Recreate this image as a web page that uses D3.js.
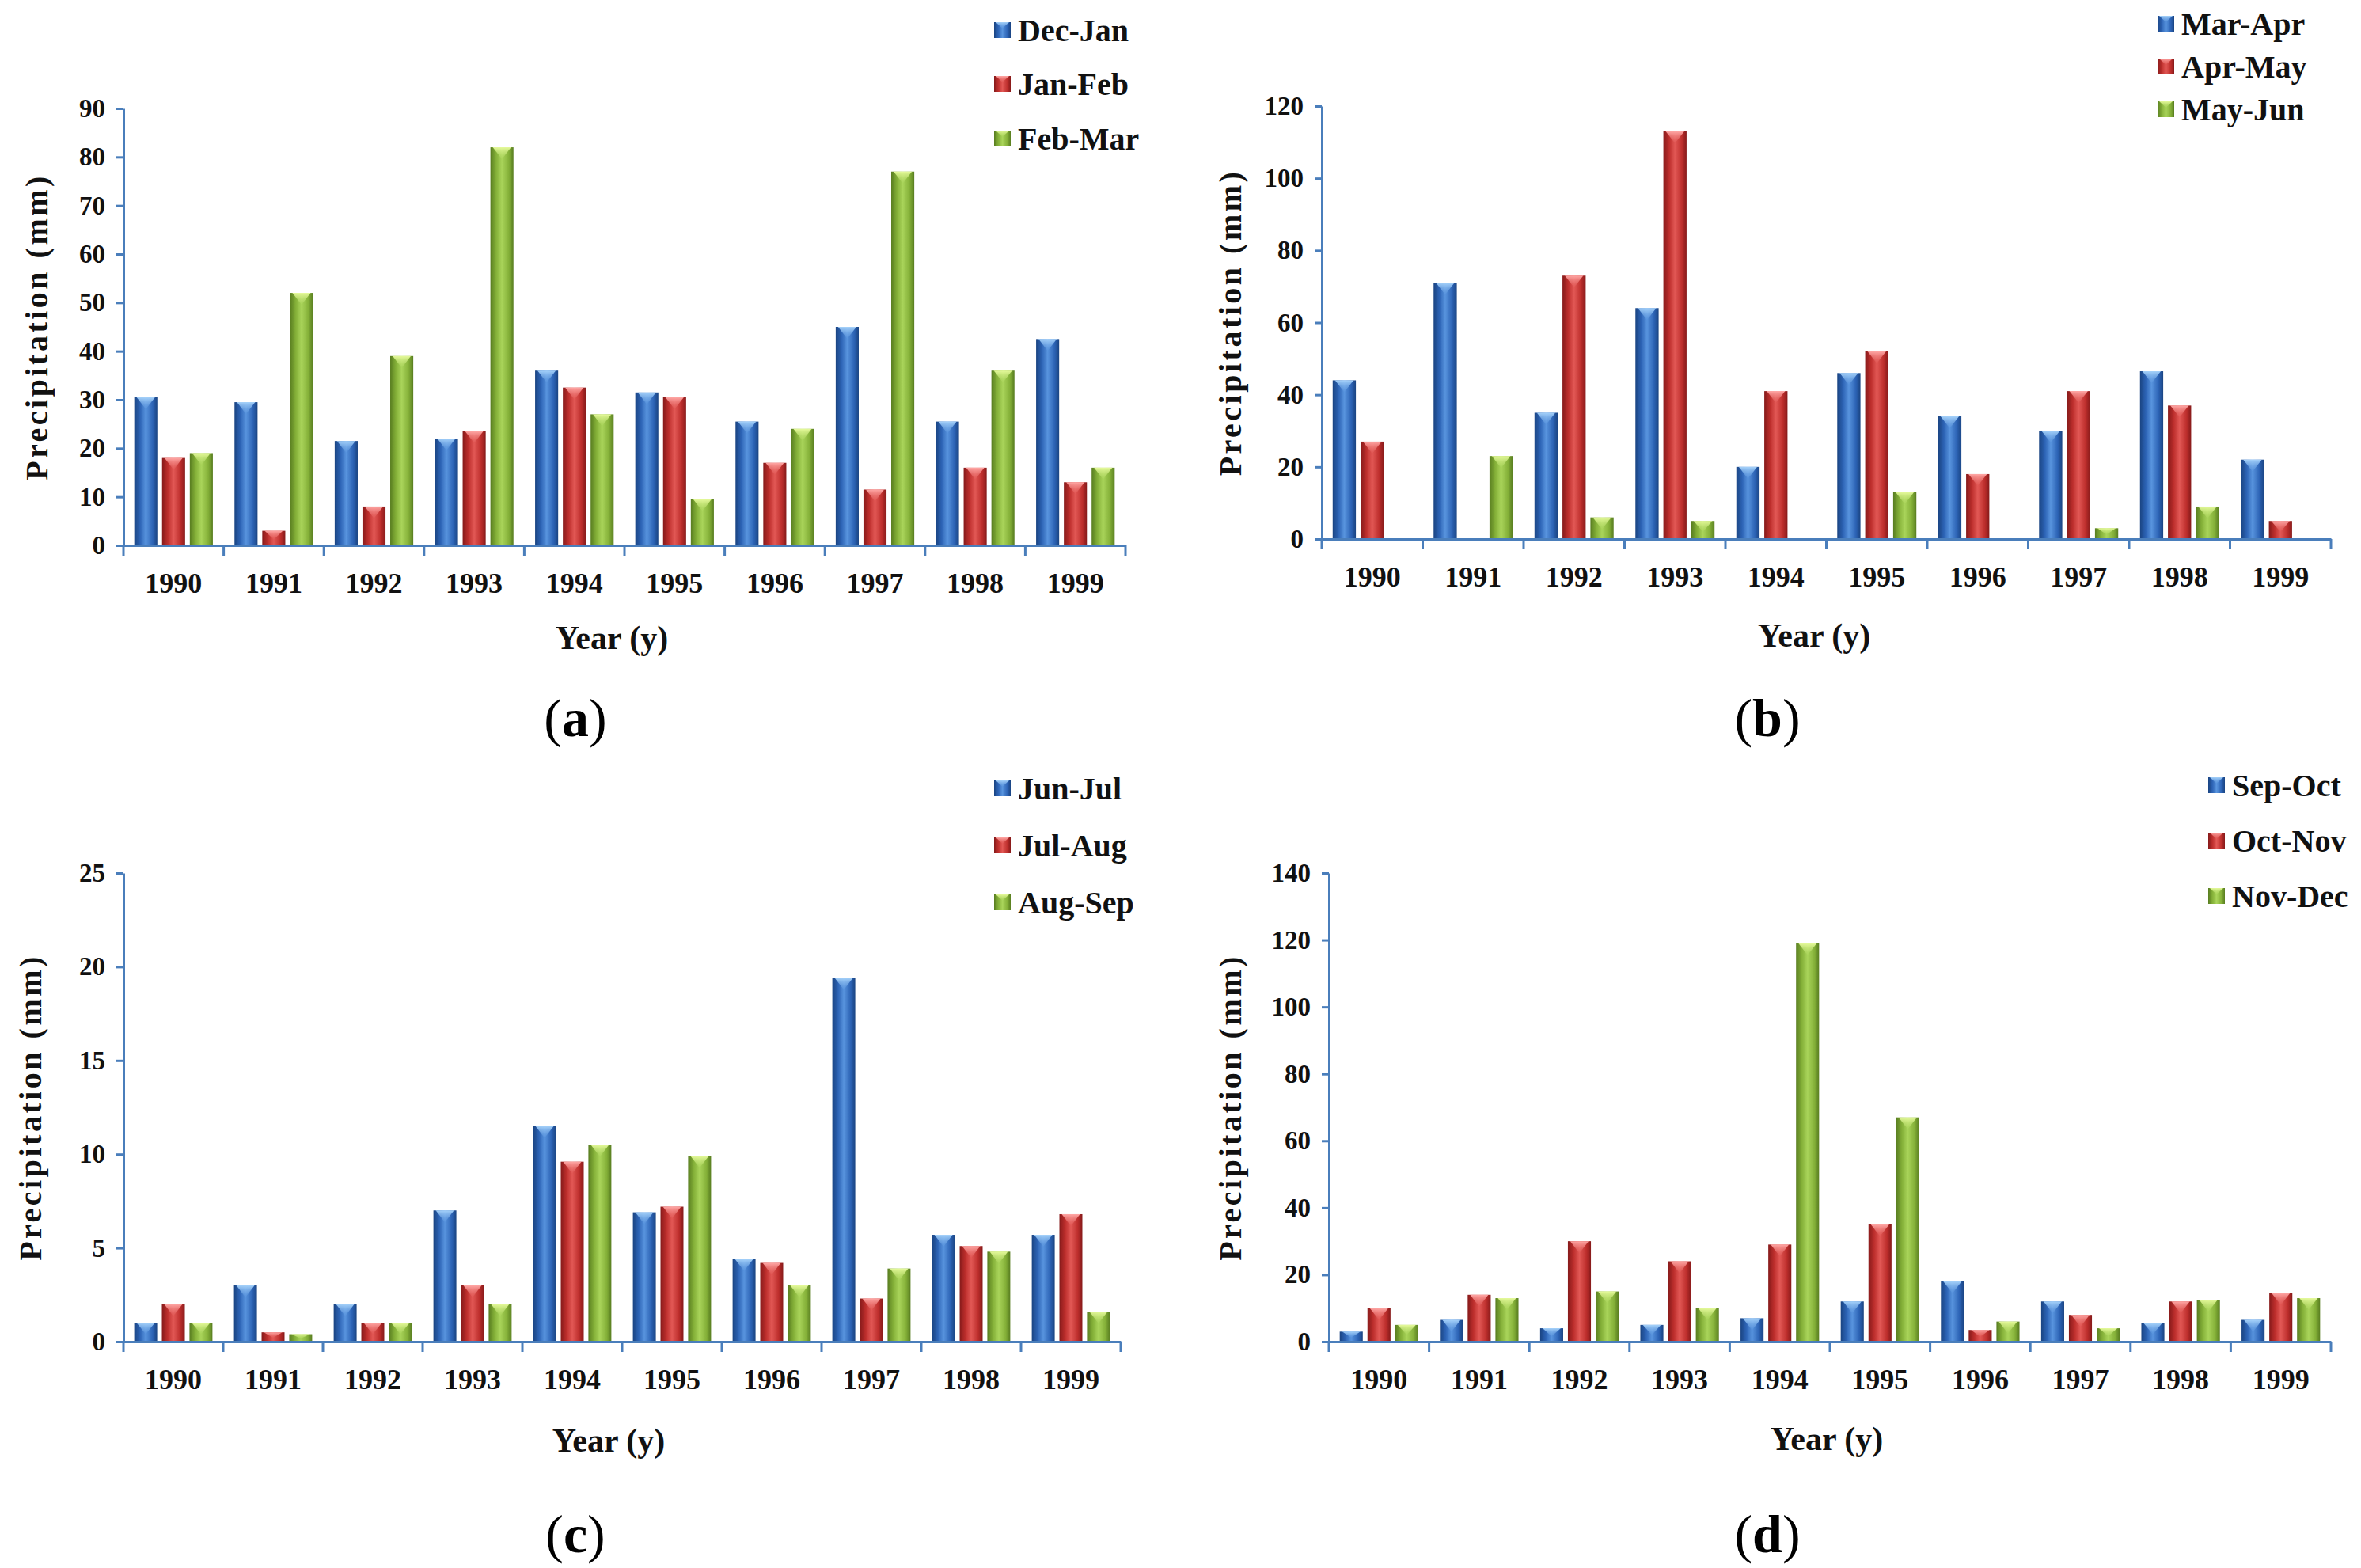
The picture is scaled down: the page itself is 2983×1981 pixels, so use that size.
<!DOCTYPE html>
<html>
<head>
<meta charset="utf-8">
<script src="https://cdn.jsdelivr.net/npm/d3@7"></script>
<style>
  body { margin: 0; background: #fff; }
  text { font-family: "Liberation Serif", "Times New Roman", serif; }
</style>
</head>
<body>
<div class="chart"></div>
<script>
// data
const years = ['1990', '1991', '1992', '1993', '1994', '1995', '1996', '1997', '1998', '1999'];

// (a)
const seriesA = ['Dec-Jan', 'Jan-Feb', 'Feb-Mar'];
const decJan = [30.5, 29.5, 21.5, 22, 36, 31.5, 25.5, 45, 25.5, 42.5];
const janFeb = [18, 3, 8, 23.5, 32.5, 30.5, 17, 11.5, 16, 13];
const febMar = [19, 52, 39, 82, 27, 9.5, 24, 77, 36, 16];
const ticksA = [0, 10, 20, 30, 40, 50, 60, 70, 80, 90];

// (b)
const seriesB = ['Mar-Apr', 'Apr-May', 'May-Jun'];
const marApr = [44, 71, 35, 64, 20, 46, 34, 30, 46.5, 22];
const aprMay = [27, 0, 73, 113, 41, 52, 18, 41, 37, 5];
const mayJun = [0, 23, 6, 5, 0, 13, 0, 3, 9, 0];
const ticksB = [0, 20, 40, 60, 80, 100, 120];

// (c)
const seriesC = ['Jun-Jul', 'Jul-Aug', 'Aug-Sep'];
const junJul = [1.0, 3.0, 2.0, 7.0, 11.5, 6.9, 4.4, 19.4, 5.7, 5.7];
const julAug = [2.0, 0.5, 1.0, 3.0, 9.6, 7.2, 4.2, 2.3, 5.1, 6.8];
const augSep = [1.0, 0.4, 1.0, 2.0, 10.5, 9.9, 3.0, 3.9, 4.8, 1.6];
const ticksC = [0, 5, 10, 15, 20, 25];

// (d)
const seriesD = ['Sep-Oct', 'Oct-Nov', 'Nov-Dec'];
const sepOct = [3, 6.5, 4, 5, 7, 12, 18, 12, 5.5, 6.5];
const octNov = [10, 14, 30, 24, 29, 35, 3.5, 8, 12, 14.5];
const novDec = [5, 13, 15, 10, 119, 67, 6, 4, 12.5, 13];
const ticksD = [0, 20, 40, 60, 80, 100, 120, 140];

const W = 2983, H = 1981;
const axisColor = '#4a7ebb';
// dark edge, mid, light, top triangle
const palette = [
  {dark: '#1a4482', mid: '#2c63b5', light: '#5894de', tip: '#a6d2fa'},
  {dark: '#861a1a', mid: '#bd2e2c', light: '#e25855', tip: '#ffa8a6'},
  {dark: '#587d20', mid: '#84b038', light: '#a9d45a', tip: '#e6fa9c'}
];

let svg = d3.select('.chart').append('svg')
  .attr('width', W).attr('height', H)
  .style('background', '#fff');

// gradients for the glossy bars
let defs = svg.append('defs');
palette.forEach((c, i) => {
  let g = defs.append('linearGradient').attr('id', 'bar' + i)
    .attr('x1', 0).attr('x2', 1).attr('y1', 0).attr('y2', 0);
  g.append('stop').attr('offset', '0%').attr('stop-color', c.dark);
  g.append('stop').attr('offset', '25%').attr('stop-color', c.mid);
  g.append('stop').attr('offset', '50%').attr('stop-color', c.light);
  g.append('stop').attr('offset', '80%').attr('stop-color', c.mid);
  g.append('stop').attr('offset', '100%').attr('stop-color', c.dark);
  let t = defs.append('linearGradient').attr('id', 'tip' + i)
    .attr('x1', 0).attr('x2', 0).attr('y1', 0).attr('y2', 1);
  t.append('stop').attr('offset', '0%').attr('stop-color', c.tip);
  t.append('stop').attr('offset', '100%').attr('stop-color', c.light).attr('stop-opacity', 0.4);
});

const panels = [
  {series: seriesA, values: [decJan, janFeb, febMar], ticks: ticksA, max: 90,
   x0: 156, x1: 1422, yTop: 137, yBot: 689, yLabelX: 46,
   yearX: 773, yearY: 805, legX: 1256, legY: [38, 106, 175], tag: 'a', tagX: 727, tagY: 906},
  {series: seriesB, values: [marApr, aprMay, mayJun], ticks: ticksB, max: 120,
   x0: 1670, x1: 2945, yTop: 134, yBot: 681, yLabelX: 1554,
   yearX: 2292, yearY: 802, legX: 2726, legY: [30, 84, 138], tag: 'b', tagX: 2233, tagY: 906},
  {series: seriesC, values: [junJul, julAug, augSep], ticks: ticksC, max: 25,
   x0: 156, x1: 1416, yTop: 1103, yBot: 1695, yLabelX: 38,
   yearX: 769, yearY: 1819, legX: 1256, legY: [996, 1068, 1140], tag: 'c', tagX: 727, tagY: 1937},
  {series: seriesD, values: [sepOct, octNov, novDec], ticks: ticksD, max: 140,
   x0: 1679, x1: 2945, yTop: 1103, yBot: 1695, yLabelX: 1554,
   yearX: 2308, yearY: 1817, legX: 2790, legY: [992, 1062, 1132], tag: 'd', tagX: 2233, tagY: 1937}
];

function drawPanel(p) {
  let g = svg.append('g');
  let x = d3.scaleBand().domain(years).range([p.x0, p.x1]);
  let xs = d3.scaleBand().domain(d3.range(3)).range([0, x.bandwidth()])
    .paddingInner(0.17).paddingOuter(0.39);
  let y = d3.scaleLinear().domain([0, p.max]).range([p.yBot, p.yTop]);

  // bars
  p.values.forEach((vals, s) => {
    let bars = g.append('g').selectAll('g')
      .data(vals.map((v, i) => ({year: years[i], v: v})).filter(d => d.v > 0))
      .enter().append('g')
        .attr('transform', d => 'translate(' + (x(d.year) + xs(s)) + ',0)');
    let bw = xs.bandwidth();
    bars.append('rect')
      .attr('x', 0).attr('y', d => y(d.v))
      .attr('width', bw).attr('height', d => y(0) - y(d.v))
      .attr('fill', 'url(#bar' + s + ')');
    bars.append('path')
      .attr('d', d => {
        let top = y(d.v), h = Math.min(15, (y(0) - top) * 0.6);
        return 'M' + 3 + ',' + top + 'L' + (bw - 3) + ',' + top + 'L' + (bw / 2) + ',' + (top + h) + 'Z';
      })
      .attr('fill', 'url(#tip' + s + ')');
  });

  // y axis
  let ya = g.append('g').attr('transform', 'translate(' + p.x0 + ',0)')
    .call(d3.axisLeft(y).tickValues(p.ticks).tickSize(9).tickPadding(14).tickSizeOuter(0));
  ya.select('.domain').attr('stroke', axisColor).attr('stroke-width', 3);
  ya.selectAll('.tick line').attr('stroke', axisColor).attr('stroke-width', 3);
  ya.selectAll('.tick text').attr('font-size', 33).attr('font-weight', 'bold')
    .attr('fill', '#111').style('font-family', '"Liberation Serif", serif');

  // x axis: line plus ticks at the group boundaries
  let xa = g.append('g').attr('transform', 'translate(0,' + p.yBot + ')')
    .call(d3.axisBottom(x).tickSize(0).tickPadding(34).tickSizeOuter(0));
  xa.select('.domain').attr('stroke', axisColor).attr('stroke-width', 3);
  xa.selectAll('.tick text').attr('font-size', 36).attr('font-weight', 'bold')
    .attr('fill', '#111').style('font-family', '"Liberation Serif", serif');
  xa.selectAll('.sep').data(years.concat(['end'])).enter().append('line')
    .attr('class', 'sep')
    .attr('x1', (d, i) => i < years.length ? x(d) : p.x1)
    .attr('x2', (d, i) => i < years.length ? x(d) : p.x1)
    .attr('y1', 0).attr('y2', 13)
    .attr('stroke', axisColor).attr('stroke-width', 3);

  // axis titles
  g.append('text')
    .attr('transform', 'translate(' + p.yLabelX + ',' + ((p.yTop + p.yBot) / 2) + ') rotate(-90)')
    .attr('text-anchor', 'middle').attr('dy', '0.35em')
    .attr('font-size', 40).attr('font-weight', 'bold').attr('letter-spacing', 3.5)
    .attr('fill', '#111')
    .text('Precipitation (mm)');
  g.append('text')
    .attr('x', p.yearX).attr('y', p.yearY)
    .attr('text-anchor', 'middle').attr('dy', '0.35em')
    .attr('font-size', 42).attr('font-weight', 'bold').attr('fill', '#111')
    .text('Year (y)');

  // legend
  let leg = g.append('g').selectAll('g').data(p.series).enter().append('g')
    .attr('transform', (d, i) => 'translate(' + p.legX + ',' + p.legY[i] + ')');
  leg.append('rect').attr('x', 0).attr('y', -10).attr('width', 21).attr('height', 20)
    .attr('fill', (d, i) => 'url(#bar' + i + ')');
  leg.append('path').attr('d', 'M2,-10L19,-10L10.5,-2Z')
    .attr('fill', (d, i) => 'url(#tip' + i + ')');
  leg.append('text').attr('x', 30).attr('dy', '0.35em')
    .attr('font-size', 40).attr('font-weight', 'bold').attr('fill', '#111')
    .text(d => d);

  // panel tag
  let tag = g.append('text').attr('x', p.tagX).attr('y', p.tagY)
    .attr('text-anchor', 'middle').attr('dy', '0.35em')
    .attr('font-size', 68).attr('fill', '#000');
  tag.append('tspan').text('(');
  tag.append('tspan').attr('font-weight', 'bold').text(p.tag);
  tag.append('tspan').text(')');
}

panels.forEach(drawPanel);
</script>
</body>
</html>
